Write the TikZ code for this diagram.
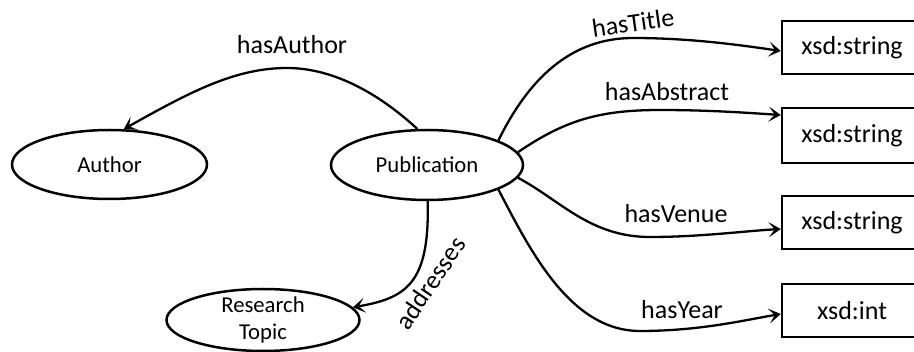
\documentclass[tikz,border=0pt]{standalone}
\usepackage{fontspec}
\setmainfont{Carlito}
\usetikzlibrary{arrows.meta,shapes.geometric}
\tikzset{
  ell/.style={draw, ellipse, line width=2.5pt, inner sep=0pt, font=\fontsize{22.7}{28}\selectfont},
  dtype/.style={draw, rectangle, line width=2.5pt, inner sep=0pt, minimum width=140pt, minimum height=53pt, font=\fontsize{26}{31}\selectfont},
  rel/.style={line width=2.3pt, -{Stealth[length=12pt,width=15pt,inset=6pt]}},
  lbl/.style={font=\fontsize{26}{31}\selectfont, inner sep=0pt},
  ltxt/.style={font=\fontsize{22.7}{28}\selectfont, inner sep=0pt, align=center}
}
\begin{document}
\begin{tikzpicture}[x=1pt,y=-1pt]
\useasboundingbox (0,0) rectangle (914,352);
% nodes
\node[ell, minimum width=195pt, minimum height=69pt] (author) at (109.5,164.5) {Author};
\node[ell, minimum width=192pt, minimum height=70pt] (pub) at (427,165) {Publication};
\node[ell, minimum width=193pt, minimum height=62pt] (rt) at (263,320) {};
\node[ltxt] (rttext) at (263,320) {Research\\[-1pt]Topic};
\node[dtype] (b1) at (852,47.5) {xsd:string};
\node[dtype, minimum height=55pt] (b2) at (852,135.5) {xsd:string};
\node[dtype] (b3) at (852,222.5) {xsd:string};
\node[dtype] (b4) at (852,310.5) {xsd:int};
% edges
\draw[rel] (pub.105) .. controls (375,90) and (330,68) .. (287,68)
  .. controls (235,68) and (190,92) .. (author.68);
\draw[rel] (pub.-89) .. controls (430,285) and (405,298) .. (rt.8);
\draw[rel] (pub.19) .. controls (528,80) and (570,38) .. (633,38)
  .. controls (690,38) and (740,45) .. ([yshift=-3.5pt]b1.west);
\draw[rel] (pub.8) .. controls (565,120) and (600,110) .. (660,110)
  .. controls (710,110) and (750,113) .. ([yshift=20.5pt]b2.west);
\draw[rel] (pub.-8) .. controls (560,200) and (590,237) .. (650,237)
  .. controls (700,237) and (745,231) .. ([yshift=-6.5pt]b3.west);
\draw[rel] (pub.-19) .. controls (530,250) and (570,331) .. (640,331)
  .. controls (700,331) and (745,320) .. ([yshift=-3.5pt]b4.west);
% labels
\node[lbl] (lauthor) at (292,45) {hasAuthor};
\node[lbl, rotate=56] (laddr) at (430,283) {addresses};
\node[lbl, rotate=8] (ltitle) at (633,23) {hasTitle};
\node[lbl] (labs) at (667,92) {hasAbstract};
\node[lbl] (lvenue) at (676,214) {hasVenue};
\node[lbl] (lyear) at (682,310) {hasYear};
\end{tikzpicture}
\end{document}
